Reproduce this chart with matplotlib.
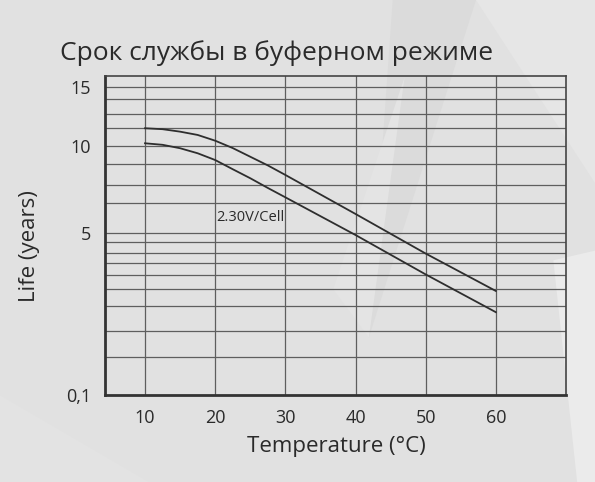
import numpy as np
import matplotlib
matplotlib.use("Agg")
import matplotlib.pyplot as plt
from matplotlib.patches import Polygon

# --- data ---
temps = [10, 12.5, 15, 17.5, 20, 22.5, 25, 27.5, 30, 40, 50, 60]
life_upper = [11.51, 11.43, 11.22, 10.94, 10.45, 9.88, 9.38, 8.88, 8.33, 6.08, 4.37, 3.24]
life_lower = [10.23, 10.10, 9.87, 9.58, 9.19, 8.66, 8.14, 7.58, 7.04, 4.93, 3.74, 2.60]

x_ticks = [10, 20, 30, 40, 50, 60]
y_ticks = [0.1, 5, 10, 15]
y_tick_labels = ["0,1", "5", "10", "15"]
y_grid = [15, 14.0, 12.7, 11.5, 10, 8.94, 7.75, 6.7, 5, 4.73, 4.40, 4.08,
          3.72, 3.29, 2.80, 2.03, 1.26]

title = "Срок службы в буферном режиме"
xlabel = "Temperature (°C)"
ylabel = "Life (years)"
note = "2.30V/Cell"

# the chart's y axis is a hand-drawn, non-uniform scale: piecewise linear
scale_vals = [0.1, 5, 10, 15, 16]
scale_pos = [0, 162.3, 249, 307.7, 319.3]


def fwd(v):
    return np.interp(v, scale_vals, scale_pos)


def inv(p):
    return np.interp(p, scale_pos, scale_vals)


FONT = "Open Sans"
BG = "#e1e1e1"
TXT = "#2a2a2a"
GRID = "#5e5e5e"

fig = plt.figure(figsize=(5.95, 4.82), dpi=100, facecolor=BG)

# faint background facets (behind everything)
facets = [
    ([(0.66, 1.0), (0.80, 1.0), (0.62, 0.30)], "#dbdbdb"),
    ([(0.68, 0.84), (0.62, 0.30), (0.56, 0.40)], "#e4e4e4"),
    ([(0.80, 1.0), (1.0, 1.0), (1.0, 0.62)], "#e6e6e6"),
    ([(0.93, 0.46), (1.0, 0.48), (1.0, 0.0), (0.97, 0.0)], "#ebebeb"),
    ([(0.0, 0.0), (0.25, 0.0), (0.0, 0.18)], "#e3e3e3"),
]
for pts, col in facets:
    fig.patches.append(Polygon(pts, closed=True, transform=fig.transFigure,
                               facecolor=col, edgecolor="none", zorder=-10))

ax = fig.add_axes([0.1765, 0.1805, 0.7748, 0.6625])
ax.set_facecolor("none")
ax.set_yscale("function", functions=(fwd, inv))

ax.plot(temps, life_upper, color="#2e2e2e", linewidth=1.3, zorder=3)
ax.plot(temps, life_lower, color="#2e2e2e", linewidth=1.3, zorder=3)

ax.set_xlim(4.3, 70)
ax.set_ylim(0.1, 16)

for v in y_grid:
    ax.axhline(v, color=GRID, linewidth=0.9, zorder=1)
for t in x_ticks:
    ax.axvline(t, color=GRID, linewidth=0.9, zorder=1)

ax.set_xticks(x_ticks)
ax.set_xticklabels([str(t) for t in x_ticks], fontsize=13, family=FONT, color=TXT)
ax.set_yticks(y_ticks)
ax.set_yticklabels(y_tick_labels, fontsize=13, family=FONT, color=TXT)
ax.yaxis.set_minor_locator(matplotlib.ticker.NullLocator())
ax.tick_params(length=0, pad=10)

for side in ("left", "bottom"):
    ax.spines[side].set_linewidth(2.0)
    ax.spines[side].set_color("#333333")
for side in ("top", "right"):
    ax.spines[side].set_linewidth(1.2)
    ax.spines[side].set_color("#444444")

ax.text(20.1, 5.89, note, fontsize=10.5, family=FONT, color=TXT,
        ha="left", va="center")

fig.text(0.1, 0.89, title, fontsize=19, family=FONT, color=TXT,
         ha="left", va="center")
fig.text(0.566, 0.073, xlabel, fontsize=16, family=FONT, color=TXT,
         ha="center", va="center")
fig.text(0.05, 0.49, ylabel, fontsize=16, family=FONT, color=TXT,
         ha="center", va="center", rotation=90)

fig.savefig("out.png", dpi=100, facecolor=BG)
